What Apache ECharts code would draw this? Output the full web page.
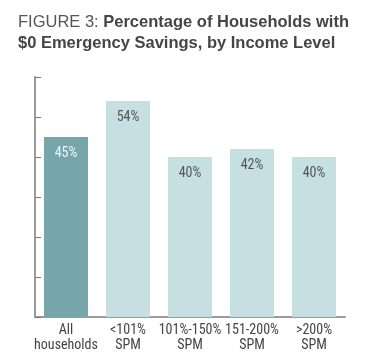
<!DOCTYPE html>
<html><head><meta charset="utf-8">
<script src="https://cdn.jsdelivr.net/npm/echarts@6/dist/echarts.min.js"></script>
<style>html,body{margin:0;padding:0;background:#fff}#c{width:367px;height:356px}</style>
</head><body><div id="c"></div>
<script>
const categories = ['All\nhouseholds', '<101%\nSPM', '101%-150%\nSPM', '151-200%\nSPM', '>200%\nSPM'];
const values = [45, 54, 40, 42, 40];
const barColors = ['#76a5aa', '#c6e0e2', '#c6e0e2', '#c6e0e2', '#c6e0e2'];
const labelColors = ['#eef6f7', '#555555', '#555555', '#555555', '#555555'];

const narrow = '"Roboto Condensed","Liberation Sans Narrow",sans-serif';
const titleFont = '"Liberation Sans",Arial,sans-serif';
const chart = echarts.init(document.getElementById('c'), null, {renderer: 'canvas'});
chart.setOption({
  animation: false,
  title: {
    left: 13, top: 7,
    text: '{a|FIGURE 3: }{b|Percentage of Households with}\n{b|$0 Emergency Savings, by Income Level}',
    textStyle: {
      fontFamily: titleFont,
      rich: {
        a: {fontSize: 16.5, fontWeight: 'normal', color: '#555', lineHeight: 21, fontFamily: titleFont},
        b: {fontSize: 16.5, fontWeight: 'bold', color: '#454545', lineHeight: 21, fontFamily: titleFont}
      }
    }
  },
  grid: {left: 35, right: 22, top: 77, bottom: 39, containLabel: false},
  xAxis: {
    type: 'category',
    data: categories,
    axisLine: {lineStyle: {color: '#9a9a9a', width: 2}},
    axisTick: {inside: true, length: 5, lineStyle: {color: '#9a9a9a', width: 1}},
    axisLabel: {color: '#444', fontSize: 14, fontFamily: narrow, lineHeight: 15, margin: 6, interval: 0}
  },
  yAxis: {
    type: 'value', min: 0, max: 60, interval: 10,
    axisLine: {show: true, lineStyle: {color: '#9a9a9a', width: 2}},
    axisTick: {show: true, inside: true, length: 6, lineStyle: {color: '#777', width: 1}},
    axisLabel: {show: false},
    splitLine: {show: false}
  },
  series: [{
    type: 'bar',
    barWidth: 44,
    data: values.map((v, i) => ({
      value: v,
      itemStyle: {color: barColors[i]},
      label: {color: labelColors[i]}
    })),
    label: {
      show: true, position: 'insideTop', distance: 9,
      formatter: '{c}%', fontSize: 14, fontFamily: narrow
    }
  }]
});
</script></body></html>
